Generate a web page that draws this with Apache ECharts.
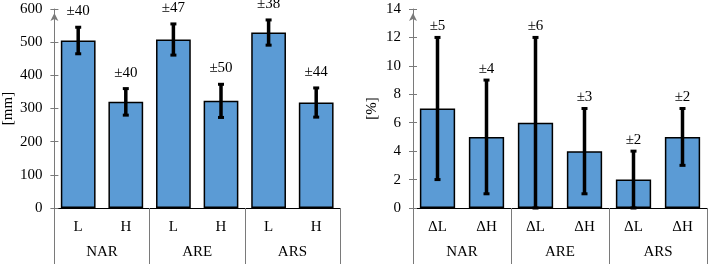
<!DOCTYPE html>
<html>
<head>
<meta charset="utf-8">
<script src="https://cdn.jsdelivr.net/npm/echarts@6/dist/echarts.min.js"></script>
<style>
	html, body {margin: 0; padding: 0; background: #fff;}
	#chart {width: 708px; height: 264px;}
</style>
</head>
<body>
<div id="chart"></div>
<script>
	var groups = ['NAR', 'ARE', 'ARS'];
	var leftCats = ['L', 'H', 'L', 'H', 'L', 'H'];
	var lengthMean = [505, 320, 508, 323, 529, 318];
	var lengthErr = [40, 40, 47, 50, 38, 44];
	var rightCats = ['ΔL', 'ΔH', 'ΔL', 'ΔH', 'ΔL', 'ΔH'];
	var changeMean = [7, 5, 6, 4, 2, 5];
	var changeErr = [5, 4, 6, 3, 2, 2];

	var font = 'Liberation Serif';
	var fs = 15;
	var grey = '#7a7a7a';

	function errData(mean, err){
		return mean.map(function(v, i){ return [i, v, err[i]]; });
	}

	// error bar with caps and a "±" label above the top cap
	function errRenderer(labelGap){
		return function(params, api){
			var x = api.value(0), v = api.value(1), e = api.value(2);
			var top = api.coord([x, v + e]);
			var bot = api.coord([x, v - e]);
			return {
				type: 'group',
				children: [
					{type: 'line', shape: {x1: top[0], y1: top[1], x2: bot[0], y2: bot[1]}, style: {stroke: '#000', lineWidth: 3.5}},
					{type: 'rect', shape: {x: top[0] - 3, y: top[1] - 1.5, width: 6, height: 3}, style: {fill: '#000'}},
					{type: 'rect', shape: {x: bot[0] - 3, y: bot[1] - 1.5, width: 6, height: 3}, style: {fill: '#000'}},
					{type: 'text', x: top[0], y: top[1] - labelGap, style: {text: '±' + e, fill: '#000', fontFamily: font, fontSize: fs, align: 'center', verticalAlign: 'middle'}}
				]
			};
		};
	}

	function yAxes(grid, max, interval, name, gap){
		return [{
			gridIndex: grid, type: 'value', min: 0, max: max, interval: interval,
			name: name, nameLocation: 'middle', nameGap: gap,
			nameTextStyle: {fontFamily: font, fontSize: fs, color: '#000'},
			axisLine: {show: true, symbol: ['none', 'arrow'], symbolSize: [6, 8], symbolOffset: [0, -4], lineStyle: {color: grey}},
			axisTick: {show: true, length: 4, lineStyle: {color: grey}},
			axisLabel: {margin: 12, fontFamily: font, fontSize: fs, color: '#000'},
			splitLine: {show: false}
		}, {
			gridIndex: grid, type: 'value', min: 0, max: max, interval: interval, position: 'left',
			axisLine: {show: false},
			axisTick: {show: true, inside: true, length: 4, lineStyle: {color: grey}},
			axisLabel: {show: false},
			splitLine: {show: false}
		}];
	}

	function xAxes(grid, cats){
		return [{
			gridIndex: grid, type: 'category', data: cats,
			axisLine: {show: true, lineStyle: {color: '#000'}},
			axisTick: {show: false},
			axisLabel: {margin: 12, fontFamily: font, fontSize: fs, color: '#000'}
		}, {
			gridIndex: grid, type: 'category', data: groups, position: 'bottom',
			axisLine: {show: false},
			axisTick: {show: true, length: 56, interval: 0, lineStyle: {color: grey}},
			axisLabel: {margin: 37, fontFamily: font, fontSize: fs, color: '#000'}
		}];
	}

	var barStyle = {color: '#5b9bd5', borderColor: '#000', borderWidth: 1.5};

	var chart = echarts.init(document.getElementById('chart'));
	chart.setOption({
		animation: false,
		textStyle: {fontFamily: font},
		grid: [
			{left: 54, top: 9, width: 286, height: 199},
			{left: 413, top: 9, width: 294, height: 199}
		],
		xAxis: xAxes(0, leftCats).concat(xAxes(1, rightCats)),
		yAxis: yAxes(0, 600, 100, '[mm]', 36).concat(yAxes(1, 14, 2, '[%]', 33)),
		series: [
			{type: 'bar', xAxisIndex: 0, yAxisIndex: 0, data: lengthMean, barCategoryGap: '27%', itemStyle: barStyle},
			{type: 'custom', xAxisIndex: 0, yAxisIndex: 0, data: errData(lengthMean, lengthErr), renderItem: errRenderer(16), z: 5},
			{type: 'bar', xAxisIndex: 2, yAxisIndex: 2, data: changeMean, barCategoryGap: '28%', itemStyle: barStyle},
			{type: 'custom', xAxisIndex: 2, yAxisIndex: 2, data: errData(changeMean, changeErr), renderItem: errRenderer(11.5), z: 5}
		]
	});
</script>
</body>
</html>
